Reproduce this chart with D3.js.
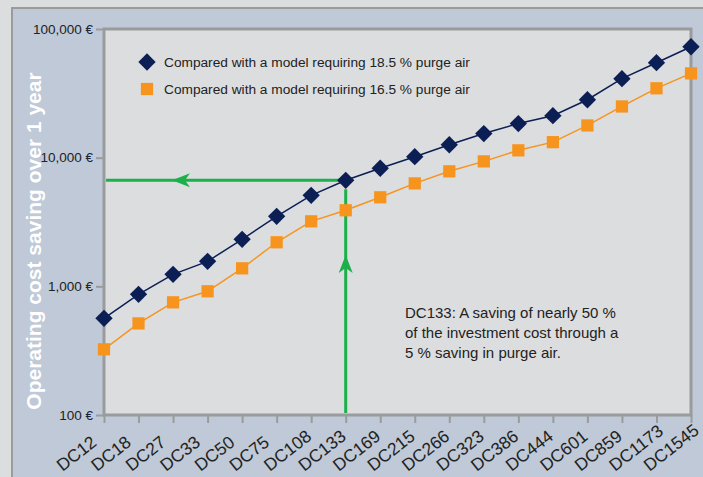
<!DOCTYPE html>
<meta charset="utf-8">
<style>
  body { margin: 0; background: #dcdddf; }
  svg text { font-family: "Liberation Sans", Arial, sans-serif; }
</style>
<svg width="703" height="477"></svg>
<script src="https://d3js.org/d3.v7.min.js"></script>
<script>

var models = ["DC12","DC18","DC27","DC33","DC50","DC75","DC108","DC133","DC169","DC215","DC266","DC323","DC386","DC444","DC601","DC859","DC1173","DC1545"];
var saving185 = [564,866,1240,1564,2320,3500,5100,6670,8270,10180,12600,15400,18400,21200,28200,41100,54700,72800];
var saving165 = [324,515,751,915,1380,2200,3200,3900,4920,6310,7830,9360,11400,13200,17800,25000,34600,45200];
var yTicks = [100,1000,10000,100000];
var yTickLabels = ["100 €","1,000 €","10,000 €","100,000 €"];
var legendLabels = ["Compared with a model requiring 18.5 % purge air","Compared with a model requiring 16.5 % purge air"];
var highlight = "DC133";

var svg = d3.select("svg"),
    width = +svg.attr("width"),
    height = +svg.attr("height"),
    pLeft = 104, pRight = 691, pTop = 29, pBottom = 415;

// blue panel
svg.append("rect").attr("x", 12).attr("y", 8).attr("width", width).attr("height", height)
    .attr("fill", "#bfc9d7").attr("stroke", "#9a9b9d").attr("stroke-width", 2);

// plot area
svg.append("rect").attr("x", pLeft).attr("y", pTop).attr("width", pRight - pLeft).attr("height", pBottom - pTop)
    .attr("fill", "#dcdddf");

var x = d3.scalePoint().domain(models).range([pLeft, pRight]);
var y = d3.scaleLog().domain([100, 100000]).range([pBottom, pTop]);

var yAxis = svg.append("g").attr("transform", "translate(" + pLeft + ",0)")
    .call(d3.axisLeft(y).tickValues(yTicks).tickFormat(function(d, i) { return yTickLabels[i]; }).tickSize(8).tickSizeOuter(0).tickPadding(3));
yAxis.select(".domain").remove();
yAxis.selectAll("line").attr("stroke", "#9a9b9d").attr("stroke-width", 2);
yAxis.selectAll("text").attr("fill", "#222").style("font-size", "13.5px").style("font-family", "Liberation Sans, Arial, sans-serif");

var xAxis = svg.append("g").attr("transform", "translate(0," + pBottom + ")")
    .call(d3.axisBottom(x).tickSize(8).tickSizeOuter(0));
xAxis.select(".domain").remove();
xAxis.selectAll("line").attr("stroke", "#9a9b9d").attr("stroke-width", 2);
// labels start below-left of each tick and run up to the right
xAxis.selectAll("text")
    .attr("fill", "#222")
    .style("font-size", "17.5px").style("font-family", "Liberation Sans, Arial, sans-serif")
    .attr("text-anchor", "start")
    .attr("dy", null).attr("y", 0)
    .attr("transform", "translate(-42,57) rotate(-38)");

// frame
svg.append("rect").attr("x", pLeft).attr("y", pTop).attr("width", pRight - pLeft).attr("height", pBottom - pTop)
    .attr("fill", "none").attr("stroke", "#9a9b9d").attr("stroke-width", 3);

// y title
svg.append("text")
    .attr("transform", "translate(41,241) rotate(-90)")
    .attr("text-anchor", "middle")
    .attr("fill", "#fff").style("font-size", "21px").style("font-weight", "bold")
    .text("Operating cost saving over 1 year");

// green guide lines
var gx = x(highlight), gy = y(saving185[models.indexOf(highlight)]);
var green = "#1cb04b";
svg.append("line").attr("x1", pLeft + 2).attr("x2", gx - 6).attr("y1", gy).attr("y2", gy)
    .attr("stroke", green).attr("stroke-width", 3);
svg.append("line").attr("x1", gx).attr("x2", gx).attr("y1", gy + 9).attr("y2", pBottom - 2)
    .attr("stroke", green).attr("stroke-width", 3);
svg.append("path").attr("fill", green)
    .attr("d", "M" + (pLeft + 68) + "," + gy + "L" + (pLeft + 86) + "," + (gy - 7) + "L" + (pLeft + 81) + "," + gy + "L" + (pLeft + 86) + "," + (gy + 7) + "Z");
svg.append("path").attr("fill", green)
    .attr("d", "M" + gx + "," + (pBottom - 160) + "L" + (gx - 7) + "," + (pBottom - 142) + "L" + gx + "," + (pBottom - 147) + "L" + (gx + 7) + "," + (pBottom - 142) + "Z");

var line = d3.line().x(function(d, i) { return x(models[i]); }).y(function(d) { return y(d); });

svg.append("path").datum(saving165).attr("d", line).attr("fill", "none").attr("stroke", "#f7941d").attr("stroke-width", 1.5);
svg.append("path").datum(saving185).attr("d", line).attr("fill", "none").attr("stroke", "#0b1f55").attr("stroke-width", 1.5);

var sq = d3.symbol().type(d3.symbolSquare).size(150);
var dia = d3.symbol().type(d3.symbolSquare).size(150);

svg.selectAll(".sq").data(saving165).enter().append("path")
    .attr("d", sq)
    .attr("transform", function(d, i) { return "translate(" + x(models[i]) + "," + y(d) + ")"; })
    .attr("fill", "#f7941d");

svg.selectAll(".dia").data(saving185).enter().append("path")
    .attr("d", dia)
    .attr("transform", function(d, i) { return "translate(" + x(models[i]) + "," + y(d) + ") rotate(45)"; })
    .attr("fill", "#0b1f55");

// legend
svg.append("path").attr("d", dia).attr("transform", "translate(147,62) rotate(45)").attr("fill", "#0b1f55");
svg.append("path").attr("d", sq).attr("transform", "translate(147,89)").attr("fill", "#f7941d");
svg.selectAll(".leg").data(legendLabels).enter().append("text")
    .attr("x", 164).attr("y", function(d, i) { return 62 + i * 27; })
    .attr("dy", "0.35em").attr("fill", "#222").style("font-size", "13.7px")
    .text(function(d) { return d; });

// note
var note = ["DC133: A saving of nearly 50 %", "of the investment cost through a", "5 % saving in purge air."];
svg.selectAll(".note").data(note).enter().append("text")
    .attr("x", 405).attr("y", function(d, i) { return 318 + i * 20; })
    .attr("fill", "#222").style("font-size", "15px")
    .text(function(d) { return d; });

</script>
